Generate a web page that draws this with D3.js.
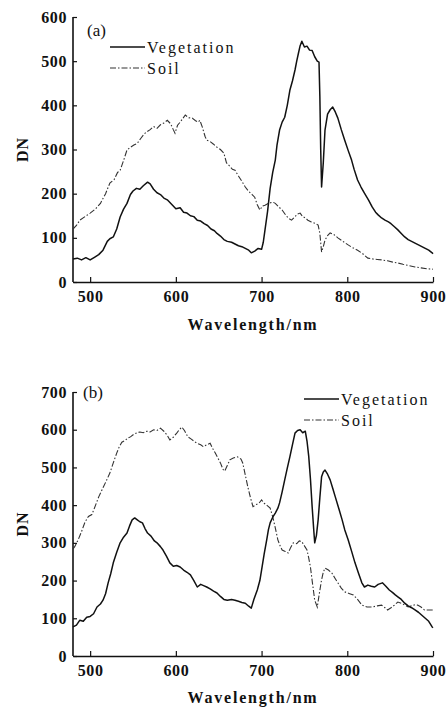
<!DOCTYPE html>
<html>
<head>
<meta charset="utf-8">
<script src="https://cdn.jsdelivr.net/npm/d3@7"></script>
<style>
  body { margin: 0; background: #fff; }
  text { font-family: "Liberation Serif", "DejaVu Serif", serif; fill: #111; }
</style>
</head>
<body>
<script>
// Spectra (wavelength in nm, DN)

// panel (a)
let vegA_nm = [480,485,490,495,500,505,510,515,520,523,527,531,535,539,543,547,550,554,558,562,567,570,574,578,582,586,590,595,600,605,609,613,617,621,625,629,633,637,641,645,648,652,656,660,665,669,673,677,681,685,688,692,696,700,702,704,707,710,713,716,718,721,724,727,730,733,736,739,741,743,745,747,750,753,756,759,762,765,767,768,769,770,772,774,777,780,783,786,789,793,797,801,805,808,812,816,820,825,829,833,836,840,844,848,851,855,859,863,867,871,875,879,883,887,891,895,899,900];
let vegA_dn = [52,54,50,55,50,56,62,72,92,98,102,120,147,165,178,198,206,212,210,218,226,222,210,202,198,190,186,176,166,168,158,156,150,148,140,138,132,128,120,116,110,104,96,92,90,86,82,80,76,72,66,70,76,74,90,118,160,212,248,276,310,344,362,373,400,434,455,480,500,518,535,545,532,534,525,524,510,500,498,420,300,215,270,344,380,390,396,385,371,345,321,298,276,255,231,215,201,185,170,158,152,145,140,136,132,125,118,110,102,96,92,88,84,80,76,72,66,64];

let soilA_nm = [480,484,488,494,500,506,512,518,523,528,532,535,539,543,547,551,555,559,563,566,570,574,578,582,586,590,594,597,599,602,605,608,611,615,619,623,626,628,631,634,636,640,644,648,652,656,659,663,666,669,673,677,681,685,689,692,695,698,701,704,708,713,716,720,724,728,731,735,739,742,745,748,751,754,758,762,766,768,770,772,774,777,780,784,789,795,801,806,812,818,824,830,835,840,847,853,859,865,872,879,886,893,900];
let soilA_dn = [120,128,140,148,156,165,178,200,224,232,248,253,275,299,305,310,314,325,335,340,345,352,348,356,360,366,358,345,337,355,362,370,378,372,371,365,362,366,350,330,321,318,312,305,300,292,270,262,255,253,240,228,215,205,198,192,175,163,172,174,178,181,178,170,163,152,145,140,148,154,156,148,145,140,136,133,129,110,68,80,95,105,111,108,100,92,84,78,72,64,54,52,51,50,48,45,43,40,37,34,32,30,29];

// panel (b)
let vegB_nm = [480,484,488,492,496,500,504,508,512,515,518,521,524,527,531,535,539,543,546,549,552,555,558,561,564,567,571,575,578,582,585,589,593,597,601,605,609,613,617,621,625,629,633,636,640,644,648,652,656,660,665,669,673,677,681,685,688,691,695,698,700,703,706,708,710,713,716,719,721,724,727,730,733,736,739,742,745,748,751,753,755,757,759,761,762,764,766,768,770,772,774,777,780,783,786,790,794,797,801,805,809,813,817,820,824,828,832,836,841,845,849,853,856,859,863,867,871,875,879,883,887,891,895,899,900];
let vegB_dn = [77,82,95,92,103,105,112,130,138,148,165,194,218,247,275,300,315,326,345,361,366,361,356,353,338,326,318,305,300,290,281,265,247,238,240,236,228,222,215,200,183,190,186,183,178,172,167,158,150,148,150,148,145,142,140,132,127,150,175,200,228,270,308,335,353,368,379,392,406,435,467,498,528,560,591,598,600,592,596,570,530,470,396,330,300,320,361,420,475,488,493,482,467,445,422,392,361,335,308,278,247,220,194,183,188,185,183,190,194,185,175,168,162,157,150,140,133,128,122,116,108,100,92,77,75];

let soilB_nm = [480,482,486,490,494,498,502,506,510,515,519,523,527,531,534,537,541,544,547,551,555,558,562,566,570,574,578,582,586,590,593,597,601,604,607,610,614,618,622,625,629,632,636,640,643,646,649,652,655,657,660,663,667,672,676,678,681,684,687,690,694,697,700,703,707,710,713,716,719,722,724,727,731,734,737,741,744,747,750,753,755,757,759,762,765,767,770,772,774,778,782,786,789,793,797,802,807,812,817,823,829,835,840,844,847,851,855,859,863,867,871,875,879,882,886,890,895,900];
let soilB_dn = [284,290,308,330,355,370,375,398,422,446,465,485,512,538,555,567,572,578,581,588,592,594,592,596,594,600,598,604,596,585,573,580,591,600,607,598,581,575,568,564,560,555,560,564,550,538,525,512,495,490,505,520,525,528,522,512,480,448,420,396,402,405,414,405,398,392,369,340,308,290,281,278,273,288,300,298,305,303,292,281,260,236,200,148,130,160,202,222,233,228,220,205,194,180,170,166,162,150,135,130,130,133,135,128,122,128,135,143,140,135,130,133,136,135,130,122,122,122];

let xTicks = [500, 600, 700, 800, 900];
let yTicksA = [0, 100, 200, 300, 400, 500, 600];
let yTicksB = [0, 100, 200, 300, 400, 500, 600, 700];
let seriesNames = ["Vegetation", "Soil"];

let svg = null;
let left = 73, right = 433;

appendSvg("body");
drawPanel({ top: 17, bottom: 282, yMax: 600, yTicks: yTicksA, label: "(a)", labelX: 87, labelY: 36,
  legendX: 110, legendY: 47, veg: [vegA_nm, vegA_dn], soil: [soilA_nm, soilA_dn], titleY: 330 });
drawPanel({ top: 392, bottom: 656, yMax: 700, yTicks: yTicksB, label: "(b)", labelX: 83, labelY: 398,
  legendX: 304, legendY: 399, veg: [vegB_nm, vegB_dn], soil: [soilB_nm, soilB_dn], titleY: 703 });

function appendSvg(domElement) {
  svg = d3.select(domElement).append("svg")
    .attr("width", 448)
    .attr("height", 711);
}

function drawPanel(p) {
  let x = d3.scaleLinear().domain([480, 900]).range([left, right]);
  let y = d3.scaleLinear().domain([0, p.yMax]).range([p.bottom, p.top]);
  let g = svg.append("g");

  // axes: ticks point inward, bold serif labels
  let xAxis = g.append("g")
    .attr("transform", `translate(0, ${p.bottom})`)
    .call(d3.axisBottom(x).tickValues(xTicks).tickSizeInner(-5).tickSizeOuter(0).tickPadding(9));
  let yAxis = g.append("g")
    .attr("transform", `translate(${left}, 0)`)
    .call(d3.axisLeft(y).tickValues(p.yTicks).tickSizeInner(-4).tickSizeOuter(0).tickPadding(6));

  [xAxis, yAxis].forEach(function(a) {
    a.select(".domain").attr("stroke", "#111").attr("stroke-width", 1.6);
    a.selectAll(".tick line").attr("stroke", "#111").attr("stroke-width", 1.2);
    a.selectAll(".tick text")
      .style("font-family", "'Liberation Serif', serif")
      .style("font-size", "16px")
      .style("font-weight", "bold")
      .style("letter-spacing", "0.6px")
      .attr("fill", "#111");
  });
  // the y-axis has a short tick at the top end too
  yAxis.select(".domain").attr("d", `M0,${p.bottom}V${p.top}`);

  let line = d3.line()
    .x(function(d) { return x(d[0]); })
    .y(function(d) { return y(d[1]); });

  let soil = d3.zip(p.soil[0], p.soil[1]);
  let veg = d3.zip(p.veg[0], p.veg[1]);

  g.append("path")
    .datum(soil)
    .attr("d", line)
    .attr("fill", "none")
    .attr("stroke", "#333")
    .attr("stroke-width", 1.1)
    .attr("stroke-dasharray", "6,2,1.5,2");

  g.append("path")
    .datum(veg)
    .attr("d", line)
    .attr("fill", "none")
    .attr("stroke", "#111")
    .attr("stroke-width", 1.5)
    .attr("stroke-linejoin", "round");

  // panel letter
  g.append("text")
    .attr("x", p.labelX)
    .attr("y", p.labelY)
    .style("font-size", "17px")
    .text(p.label);

  // legend
  let legend = g.selectAll(".legend")
    .data(seriesNames)
    .enter()
    .append("g")
    .attr("class", "legend")
    .attr("transform", function(d, i) { return `translate(${p.legendX}, ${p.legendY + i * 21})`; });
  legend.append("line")
    .attr("x1", 0).attr("x2", 35)
    .attr("stroke", function(d, i) { return i == 0 ? "#111" : "#333"; })
    .attr("stroke-width", function(d, i) { return i == 0 ? 1.5 : 1.1; })
    .attr("stroke-dasharray", function(d, i) { return i == 0 ? null : "6,2,1.5,2"; });
  legend.append("text")
    .attr("x", 37)
    .attr("y", 5.5)
    .style("font-size", "16px")
    .style("letter-spacing", "2px")
    .text(function(d) { return d; });

  // axis titles
  g.append("text")
    .attr("x", 253)
    .attr("y", p.titleY)
    .attr("text-anchor", "middle")
    .style("font-size", "16px")
    .style("font-weight", "bold")
    .style("letter-spacing", "1.8px")
    .text("Wavelength/nm");
  g.append("text")
    .attr("transform", `translate(28, ${(p.top + p.bottom) / 2}) rotate(-90)`)
    .attr("text-anchor", "middle")
    .style("font-size", "16px")
    .style("font-weight", "bold")
    .style("letter-spacing", "1px")
    .text("DN");
}
</script>
</body>
</html>
